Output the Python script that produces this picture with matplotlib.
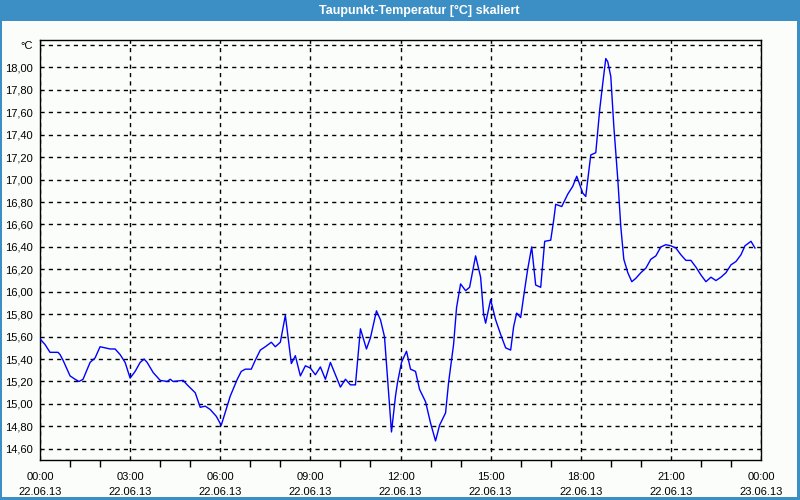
import matplotlib.pyplot as plt
from matplotlib.patches import Rectangle
import numpy as np

plt.rcParams['font.family'] = ['Liberation Sans', 'DejaVu Sans']

# minutes since 22.06.13 00:00 and dew point in °C
minutes = [0, 10, 20, 36, 40, 46, 60, 70, 78, 86, 100, 110, 120, 130, 140, 150, 160, 170,
           180, 190, 200, 208, 214, 226, 240, 254, 260, 266, 286, 294, 310, 320, 330, 340,
           352, 362, 380, 394, 402, 410, 422, 430, 440, 450, 462, 470, 480, 490, 502, 510,
           520, 530, 540, 550, 560, 570, 580, 600, 610, 620, 630, 640, 652, 660, 672, 680,
           688, 702, 710, 714, 722, 732, 740, 750, 758, 770, 780, 790, 798, 810, 816, 826,
           832, 840, 850, 858, 870, 880, 886, 890, 900, 910, 920, 930, 940, 946, 952, 960,
           966, 974, 982, 990, 1000, 1008, 1020, 1026, 1030, 1042, 1054, 1064, 1072, 1084,
           1090, 1100, 1110, 1118, 1124, 1130, 1134, 1140, 1146, 1154, 1160, 1166, 1174,
           1182, 1190, 1200, 1210, 1220, 1230, 1240, 1250, 1260, 1270, 1280, 1290, 1300,
           1310, 1320, 1330, 1340, 1350, 1360, 1370, 1380, 1390, 1400, 1408, 1420, 1428]
taupunkt = [15.58, 15.53, 15.46, 15.46, 15.44, 15.39, 15.25, 15.22, 15.20, 15.22, 15.37,
            15.41, 15.51, 15.50, 15.49, 15.49, 15.44, 15.37, 15.23, 15.29, 15.37, 15.40,
            15.37, 15.28, 15.21, 15.20, 15.22, 15.20, 15.21, 15.17, 15.10, 14.97, 14.98,
            14.95, 14.89, 14.81, 15.07, 15.22, 15.29, 15.31, 15.31, 15.39, 15.48, 15.51,
            15.55, 15.51, 15.55, 15.79, 15.36, 15.43, 15.25, 15.34, 15.32, 15.26, 15.33,
            15.22, 15.37, 15.15, 15.22, 15.17, 15.17, 15.67, 15.49, 15.59, 15.83, 15.75,
            15.60, 14.75, 15.07, 15.19, 15.37, 15.47, 15.31, 15.29, 15.13, 15.02, 14.83,
            14.67, 14.81, 14.92, 15.19, 15.53, 15.86, 16.07, 16.01, 16.04, 16.32, 16.13,
            15.80, 15.72, 15.93, 15.75, 15.62, 15.50, 15.48, 15.69, 15.81, 15.77, 15.96,
            16.20, 16.40, 16.06, 16.04, 16.45, 16.46, 16.64, 16.78, 16.76, 16.87, 16.94,
            17.03, 16.88, 16.85, 17.22, 17.24, 17.63, 17.86, 18.08, 18.05, 17.92, 17.48,
            17.00, 16.58, 16.29, 16.17, 16.09, 16.12, 16.17, 16.21, 16.29, 16.32, 16.40,
            16.42, 16.41, 16.39, 16.33, 16.28, 16.28, 16.22, 16.15, 16.09, 16.13, 16.10,
            16.13, 16.17, 16.24, 16.27, 16.33, 16.41, 16.45, 16.39]

x_ticks = [0, 3, 6, 9, 12, 15, 18, 21, 24]
x_labels = ['00:00\n22.06.13', '03:00\n22.06.13', '06:00\n22.06.13', '09:00\n22.06.13',
            '12:00\n22.06.13', '15:00\n22.06.13', '18:00\n22.06.13', '21:00\n22.06.13',
            '00:00\n23.06.13']
y_ticks = [14.6, 14.8, 15.0, 15.2, 15.4, 15.6, 15.8, 16.0, 16.2, 16.4, 16.6, 16.8,
           17.0, 17.2, 17.4, 17.6, 17.8, 18.0, 18.2]
y_labels = ['14,60', '14,80', '15,00', '15,20', '15,40', '15,60', '15,80', '16,00',
            '16,20', '16,40', '16,60', '16,80', '17,00', '17,20', '17,40', '17,60',
            '17,80', '18,00', '°C']

blue = '#3b8fc4'
fig = plt.figure(figsize=(8, 5), dpi=100, facecolor='#fbfdfb')

# window frame and title bar
fig.patches.append(Rectangle((0, 1 - 21 / 500), 1, 21 / 500, transform=fig.transFigure,
                             facecolor=blue, edgecolor='none', zorder=0))
fig.patches.append(Rectangle((0, 0), 2 / 800, 1, transform=fig.transFigure,
                             facecolor=blue, edgecolor='none', zorder=0))
fig.patches.append(Rectangle((1 - 3 / 800, 0), 3 / 800, 1, transform=fig.transFigure,
                             facecolor=blue, edgecolor='none', zorder=0))
fig.patches.append(Rectangle((0, 0), 1, 3 / 500, transform=fig.transFigure,
                             facecolor=blue, edgecolor='none', zorder=0))
fig.text(419 / 800, 1 - 10.5 / 500, 'Taupunkt-Temperatur [°C] skaliert', color='white',
         fontsize=9, fontweight='bold', ha='center', va='center')

ax = fig.add_axes([40 / 800, 40 / 500, 721 / 800, 420 / 500])
ax.set_facecolor('#fbfdfb')
hours = np.array(minutes) / 60.0
ax.plot(hours, taupunkt, color='#0000ff', lw=1, zorder=3)

ax.set_xlim(0, 24)
ax.set_ylim(14.50, 18.245)
ax.set_xticks(x_ticks)
ax.set_xticklabels(x_labels, fontsize=8, linespacing=1.55)
ax.set_xticks(np.arange(0, 25, 1), minor=True)
ax.set_yticks(y_ticks)
ax.set_yticklabels(y_labels, fontsize=8)
ax.tick_params(axis='x', which='major', length=0, pad=9)
ax.tick_params(axis='x', which='minor', length=5, direction='out', width=1)
ax.tick_params(axis='y', length=0, pad=5)

ax.grid(True, which='major', color='black', linestyle=(0, (3, 3)), lw=1)
for s in ax.spines.values():
    s.set_color('black')
    s.set_linewidth(1)

plt.savefig('out.png', dpi=100, facecolor=fig.get_facecolor())
